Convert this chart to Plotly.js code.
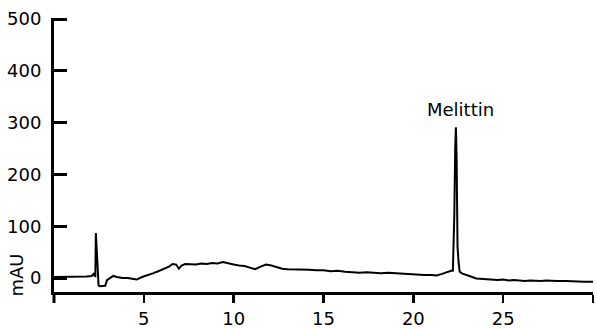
<!DOCTYPE html>
<html>
<head>
<meta charset="utf-8">
<script src="https://cdn.plot.ly/plotly-3.0.1.min.js"></script>
<style>html,body{margin:0;padding:0;background:#fff}#chart{width:597px;height:329px}</style>
</head>
<body>
<div id="chart"></div>
<script>
// Retention time (min)
const timeMin = [0, 0.3, 0.6, 1.0, 1.4, 1.8, 2.1, 2.2, 2.25, 2.3, 2.33, 2.36, 2.42, 2.48, 2.55, 2.7, 2.85, 2.95, 3.1, 3.3, 3.5, 3.8, 4.1, 4.4, 4.6, 4.9, 5.2, 5.5, 5.8, 6.1, 6.4, 6.6, 6.8, 6.95, 7.1, 7.3, 7.6, 7.9, 8.2, 8.5, 8.8, 9.1, 9.4, 9.7, 10.0, 10.3, 10.6, 10.9, 11.2, 11.5, 11.8, 12.1, 12.4, 12.7, 13.0, 13.4, 13.8, 14.2, 14.6, 15.0, 15.4, 15.8, 16.2, 16.6, 17.0, 17.4, 17.8, 18.2, 18.6, 19.0, 19.4, 19.8, 20.2, 20.6, 21.0, 21.3, 21.6, 21.9, 22.1, 22.2, 22.28, 22.33, 22.37, 22.41, 22.46, 22.52, 22.58, 22.7, 22.9, 23.2, 23.5, 23.8, 24.1, 24.4, 24.7, 25.0, 25.3, 25.6, 25.9, 26.2, 26.5, 26.8, 27.1, 27.4, 27.7, 28.0, 28.5, 29.0, 29.5, 30.0];
// Absorbance (mAU)
const absorbance = [2, 2, 3, 3, 3, 3, 4, 8, 5, 4, 87, 70, 40, -14, -16, -16, -15, -4, 0, 4, 2, 0, 0, -1, -3, 2, 5, 9, 13, 18, 22, 27, 26, 18, 24, 27, 27, 26, 28, 27, 29, 28, 31, 28, 26, 24, 23, 20, 17, 22, 26, 24, 21, 18, 17, 17, 16, 16, 15, 15, 13, 14, 12, 11, 10, 11, 10, 9, 10, 9, 8, 8, 7, 6, 6, 5, 8, 12, 14, 14, 120, 250, 291, 230, 60, 30, 12, 9, 6, 3, -1, -2, -2, -3, -4, -3, -5, -4, -5, -6, -5, -6, -6, -5, -6, -6, -6, -7, -7, -7];
const xTickVals = [0, 5, 10, 15, 20, 25, 30];
const xTickText = ['', '5', '10', '15', '20', '25', ''];
const yTickVals = [0, 100, 200, 300, 400, 500];
const peakName = 'Melittin';
const peakTime = 22.37;
const peakValue = 291;

const font = {family: 'DejaVu Sans, Arial, sans-serif', size: 18, color: '#000'};

Plotly.newPlot('chart', [{
  x: timeMin, y: absorbance, type: 'scatter', mode: 'lines',
  line: {color: '#000', width: 2}, hoverinfo: 'skip'
}], {
  width: 597, height: 329,
  margin: {l: 54, r: 4, t: 18, b: 37},
  paper_bgcolor: '#fff', plot_bgcolor: '#fff',
  showlegend: false,
  font: font,
  xaxis: {
    range: [0, 30], showgrid: false, zeroline: false,
    showline: true, linecolor: '#000', linewidth: 3,
    ticks: 'outside', ticklen: 8, tickwidth: 2.5, tickcolor: '#000',
    tickvals: xTickVals, ticktext: xTickText, tickfont: font
  },
  yaxis: {
    range: [-27, 502], showgrid: false, zeroline: false,
    showline: true, linecolor: '#000', linewidth: 3,
    ticks: 'inside', ticklen: 13, tickwidth: 3, tickcolor: '#000',
    tickvals: yTickVals, tickfont: font, ticklabelstandoff: 6
  },
  shapes: [{type: 'line', xref: 'paper', yref: 'paper', x0: 0, x1: 0, y0: 0, y1: -0.04, line: {color: '#000', width: 3}}],
  annotations: [
    {x: peakTime, y: peakValue, xref: 'x', yref: 'y', text: peakName, showarrow: false, yshift: 18, xshift: 5, font: font},
    {xref: 'paper', yref: 'paper', x: 0, y: 0.06, xanchor: 'center', yanchor: 'middle', xshift: -37, text: 'mAU', textangle: -90, showarrow: false, font: font}
  ]
}, {displayModeBar: false, staticPlot: true});
</script>
</body>
</html>
